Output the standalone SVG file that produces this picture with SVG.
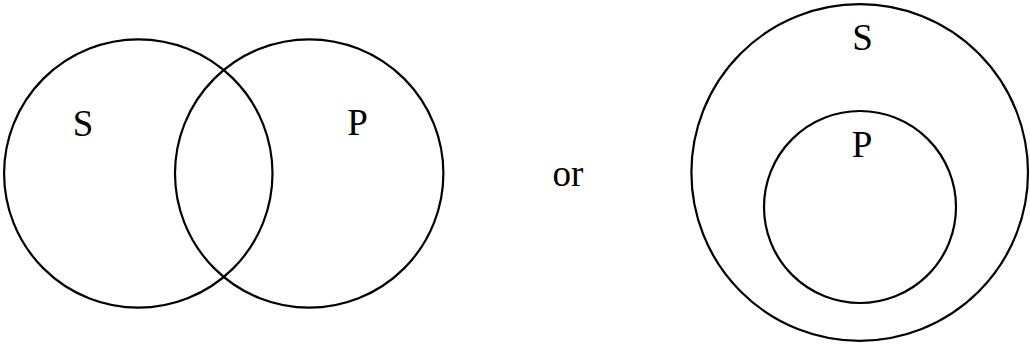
<svg xmlns="http://www.w3.org/2000/svg" width="1030" height="344" viewBox="0 0 1030 344">
<style>
.c{fill:none;stroke:#000;stroke-width:2.2}
.t{font-family:"Liberation Serif","Times New Roman",serif;font-size:37px;fill:#000;text-anchor:middle}
</style>
<rect width="1030" height="344" fill="#fff"/>
<g id="left-S"><circle class="c" cx="138.3" cy="173.5" r="134.2"/><text class="t" x="83" y="136">S</text></g>
<g id="left-P"><circle class="c" cx="309.2" cy="173.5" r="134.2"/><text class="t" x="357.5" y="135">P</text></g>
<g id="or"><text class="t" x="568" y="186">or</text></g>
<g id="right-S"><circle class="c" cx="859.7" cy="172.5" r="168.3"/><text class="t" x="862.5" y="50">S</text></g>
<g id="right-P"><circle class="c" cx="860" cy="207" r="96"/><text class="t" x="862" y="156.5">P</text></g>
<g id="connectors"></g>
</svg>
